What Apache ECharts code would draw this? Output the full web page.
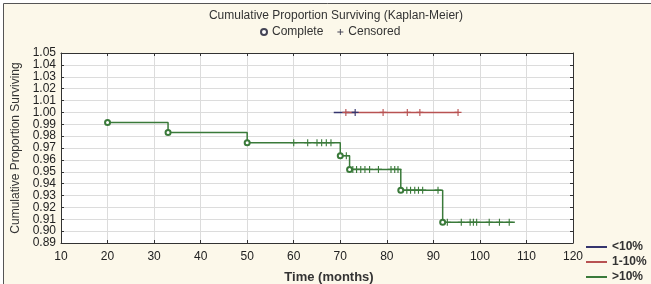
<!DOCTYPE html>
<html>
<head>
<meta charset="utf-8">
<script src="https://cdn.jsdelivr.net/npm/echarts@6/dist/echarts.min.js"></script>
<style>
  html, body { margin: 0; padding: 0; background: #fff; }
  #chart { width: 651px; height: 284px; }
</style>
</head>
<body>
<div id="chart"></div>
<script>
// green group (>10%) step curve
const greenTime = [20, 33, 50, 70, 72, 83, 92, 107.5]
const greenSurv = [0.9915, 0.983, 0.9745, 0.9635, 0.952, 0.9345, 0.9075, 0.9075]
// complete (event) points
const greenEventTime = [20, 33, 50, 70, 72, 83, 92]
const greenEventSurv = [0.9915, 0.983, 0.9745, 0.9635, 0.952, 0.9345, 0.9075]
// censored points
const greenCensTime = [60, 63, 65, 66, 67, 68, 71.3, 72.7, 73.5, 74.4, 75.3, 76.3, 78.2, 80.9, 81.7, 82.4,
  84.3, 85.1, 86, 86.8, 87.7, 91, 93, 96, 97.9, 98.6, 99.3, 102, 104.2, 106.3]
const greenCensSurv = [0.9745, 0.9745, 0.9745, 0.9745, 0.9745, 0.9745, 0.9635, 0.952, 0.952, 0.952, 0.952, 0.952,
  0.952, 0.952, 0.952, 0.952, 0.9345, 0.9345, 0.9345, 0.9345, 0.9345, 0.9345, 0.9075, 0.9075, 0.9075, 0.9075,
  0.9075, 0.9075, 0.9075, 0.9075]
// red group (1-10%)
const redTime = [71, 95.4]
const redSurv = [1, 1]
const redCensTime = [71.2, 79.2, 84.4, 87.1, 95.3]
const redCensSurv = [1, 1, 1, 1, 1]
// blue group (<10%)
const blueTime = [68.6, 73.2]
const blueSurv = [1, 1]
const blueCensTime = [73.2]
const blueCensSurv = [1]

const GREEN = '#3a7a3a'
const RED = '#b85252'
const BLUE = '#35356e'
const PLUS = 'path://M4.2,0H5.8V10H4.2Z M0,4.2H10V5.8H0Z'

const zip = (a, b) => a.map((v, i) => [v, b[i]])

let chart = echarts.init(document.getElementById('chart'))

let font = 'Liberation Sans, Arial'

chart.setOption({
  animation: false,
  backgroundColor: '#fff',
  textStyle: { fontFamily: font, color: '#222' },
  graphic: [{
    type: 'rect',
    z: -10,
    shape: { x: 3.5, y: 3.5, width: 700, height: 300 },
    style: { fill: '#fcf8ea', stroke: '#555', lineWidth: 1 }
  }],
  title: {
    text: 'Cumulative Proportion Surviving (Kaplan-Meier)',
    left: 331,
    textAlign: 'center',
    top: 5,
    textStyle: { fontSize: 12, fontWeight: 'normal', color: '#333', fontFamily: font }
  },
  legend: [{
    data: [
      { name: 'Complete', icon: 'emptyCircle', itemStyle: { color: '#445', borderColor: '#445', borderWidth: 1 } },
      { name: 'Censored', icon: PLUS, itemStyle: { color: '#445', borderWidth: 0 } }
    ],
    left: 255,
    top: 21,
    itemWidth: 6,
    itemHeight: 6,
    itemGap: 14,
    textStyle: { fontSize: 12, color: '#333', fontFamily: font }
  }, {
    data: ['<10%', '1-10%', '>10%'],
    orient: 'vertical',
    left: 586,
    top: 240,
    icon: 'rect',
    itemWidth: 21,
    itemHeight: 2,
    itemGap: 1,
    padding: 0,
    textStyle: { fontSize: 12, fontWeight: 'bold', color: '#333', fontFamily: font, lineHeight: 14 }
  }],
  grid: {
    left: 61, top: 53, right: 78, bottom: 41,
    outerBoundsMode: 'none',
    containLabel: false,
    show: true, backgroundColor: '#fff', borderWidth: 0
  },
  xAxis: [{
    type: 'value',
    min: 10, max: 120, interval: 10,
    name: 'Time (months)',
    nameLocation: 'middle',
    nameGap: 28,
    nameTextStyle: { fontSize: 13, fontWeight: 'bold', color: '#333', fontFamily: font, padding: [0, 0, 0, 24] },
    axisLine: { onZero: false, lineStyle: { color: '#333', width: 1 } },
    axisTick: { inside: true, length: 3, lineStyle: { color: '#333' } },
    axisLabel: { fontSize: 12, margin: 8, color: '#222', showMinLabel: true, showMaxLabel: true },
    splitLine: { show: true, lineStyle: { color: '#dcdcdc' } }
  }, {
    type: 'value', position: 'top',
    min: 10, max: 120, interval: 10,
    axisLine: { onZero: false, lineStyle: { color: '#333' } },
    axisTick: { inside: true, length: 3, lineStyle: { color: '#333' } },
    axisLabel: { show: false },
    splitLine: { show: false }
  }],
  yAxis: [{
    type: 'value',
    min: 0.89, max: 1.05, interval: 0.01,
    name: 'Cumulative Proportion Surviving',
    nameLocation: 'middle',
    nameGap: 36,
    nameTextStyle: { fontSize: 12, color: '#333', fontFamily: font },
    axisLine: { show: true, onZero: false, lineStyle: { color: '#333' } },
    axisTick: { show: true, inside: true, length: 3, lineStyle: { color: '#333' } },
    axisLabel: { fontSize: 12, margin: 5, color: '#222', formatter: v => v.toFixed(2),
      showMinLabel: true, showMaxLabel: true, lineHeight: 11 },
    splitLine: { show: true, lineStyle: { color: '#dcdcdc' } }
  }, {
    type: 'value', position: 'right',
    min: 0.89, max: 1.05, interval: 0.01,
    axisLine: { show: true, onZero: false, lineStyle: { color: '#333' } },
    axisTick: { show: true, inside: true, length: 3, lineStyle: { color: '#333' } },
    axisLabel: { show: false },
    splitLine: { show: false }
  }],
  series: [
    {
      name: '<10%', type: 'line', step: 'end', showSymbol: false, z: 2,
      data: zip(blueTime, blueSurv),
      itemStyle: { color: BLUE }, lineStyle: { color: BLUE, width: 1.5 }
    },
    {
      name: '1-10%', type: 'line', step: 'end', showSymbol: false, z: 3,
      data: zip(redTime, redSurv),
      itemStyle: { color: RED }, lineStyle: { color: RED, width: 1.5 }
    },
    {
      name: '>10%', type: 'line', step: 'end', showSymbol: false, z: 3,
      data: zip(greenTime, greenSurv),
      itemStyle: { color: GREEN }, lineStyle: { color: GREEN, width: 1.5 }
    },
    {
      name: 'Censored', type: 'scatter', symbol: PLUS, symbolSize: 7, z: 4,
      data: zip(redCensTime, redCensSurv),
      itemStyle: { color: RED, opacity: 1 }
    },
    {
      name: 'Censored', type: 'scatter', symbol: PLUS, symbolSize: 7, z: 5,
      data: zip(blueCensTime, blueCensSurv),
      itemStyle: { color: BLUE, opacity: 1 }
    },
    {
      name: 'Censored', type: 'scatter', symbol: PLUS, symbolSize: 7, z: 4,
      data: zip(greenCensTime, greenCensSurv),
      itemStyle: { color: GREEN, opacity: 1 }
    },
    {
      name: 'Complete', type: 'scatter', symbol: 'emptyCircle', symbolSize: 5, z: 5,
      data: zip(greenEventTime, greenEventSurv),
      itemStyle: { color: GREEN, borderColor: GREEN, borderWidth: 1.5, opacity: 1 }
    }
  ]
})
</script>
</body>
</html>
